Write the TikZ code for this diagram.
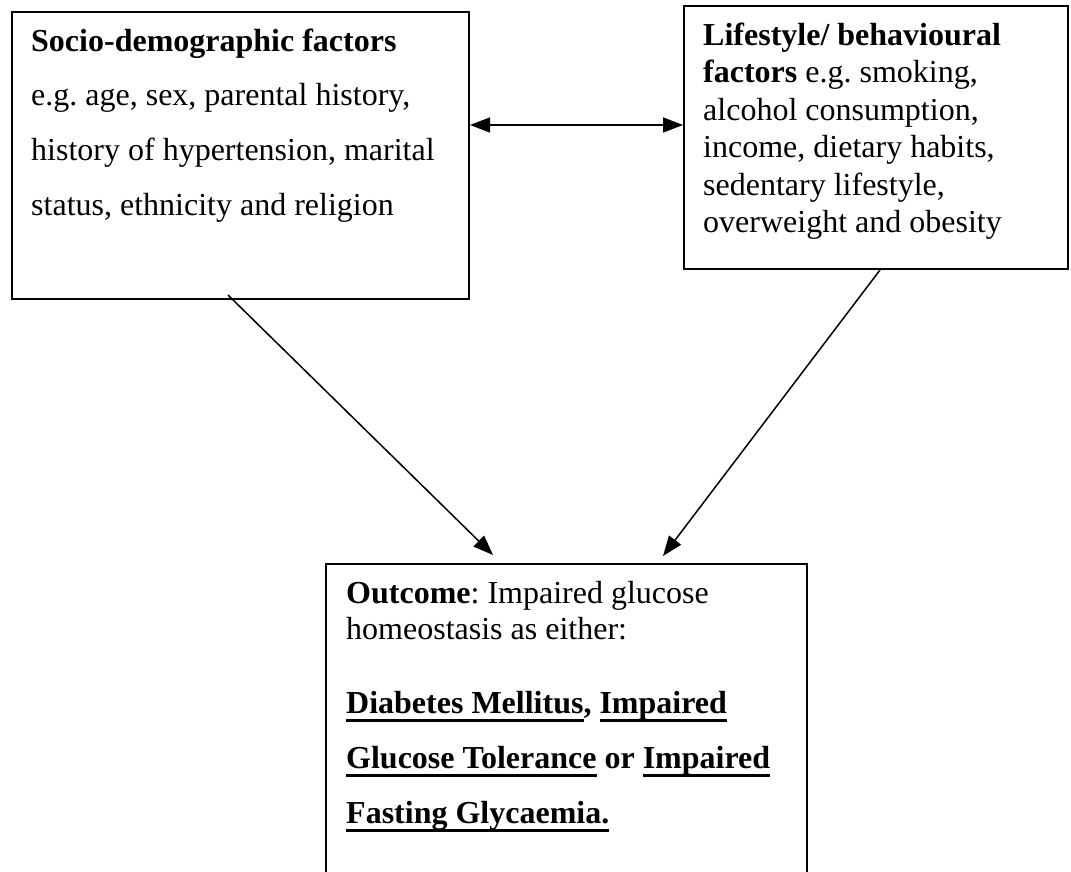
\documentclass[tikz,border=0pt]{standalone}
\usepackage{fontspec}
\setmainfont{Liberation Serif}
\usetikzlibrary{arrows.meta}
\newcommand\myul[1]{\setbox0\hbox{#1}\rlap{\rule[-9pt]{\wd0}{3.5pt}}\box0\relax}
\frenchspacing
\begin{document}
\begin{tikzpicture}[x=1pt,y=-1pt,
  box/.style={draw, line width=2pt, inner sep=0pt, anchor=north west},
  txt/.style={anchor=base west, inner sep=0pt, font=\fontsize{32}{37}\selectfont},
  arr/.style={line width=1.5pt, -{Triangle[length=20pt,width=15pt]}},
  darr/.style={line width=1.5pt, {Triangle[length=20pt,width=15pt]}-{Triangle[length=20pt,width=15pt]}}
]
\useasboundingbox (0,0) rectangle (1071,871);
\clip (0,0) rectangle (1071,871);
% boxes
\node[box, minimum width=457pt, minimum height=287pt] (b1) at (11,11) {};
\node[box, minimum width=384pt, minimum height=263pt] (b2) at (683,5) {};
\node[box, minimum width=481pt, minimum height=337pt] (b3) at (325,563) {};
% box 1 text
\node[txt] (t11) at (31,51) {\textbf{Socio-demographic factors}};
\node[txt] (t12) at (31,105) {e.g. age, sex, parental history,};
\node[txt] (t13) at (31,160) {history of hypertension, marital};
\node[txt] (t14) at (31,215) {status, ethnicity and religion};
% box 2 text
\node[txt] (t21) at (703,45) {\textbf{Lifestyle/ behavioural}};
\node[txt] (t22) at (703,82) {\textbf{factors} e.g. smoking,};
\node[txt] (t23) at (703,120) {alcohol consumption,};
\node[txt] (t24) at (703,157) {income, dietary habits,};
\node[txt] (t25) at (703,195) {sedentary lifestyle,};
\node[txt] (t26) at (703,232) {overweight and obesity};
% box 3 text
\node[txt] (t31) at (346,603) {\textbf{Outcome}: Impaired glucose};
\node[txt] (t32) at (346,639) {homeostasis as either:};
\node[txt] (t33) at (346,713) {\bfseries\myul{Diabetes Mellitus}, \myul{Impaired}};
\node[txt] (t34) at (346,768) {\bfseries\myul{Glucose Tolerance} or \myul{Impaired}};
\node[txt] (t35) at (346,823) {\bfseries\myul{Fasting Glycaemia.}};
% connectors
\draw[darr] ([yshift=-114pt]b1.north east) -- ([yshift=-120pt]b2.north west);
\draw[arr] ([xshift=-12.5pt,yshift=5pt]b1.south) -- ([xshift=168pt,yshift=8pt]b3.north west);
\draw[arr] ([xshift=4pt]b2.south) -- ([xshift=338pt,yshift=7pt]b3.north west);
\end{tikzpicture}
\end{document}
